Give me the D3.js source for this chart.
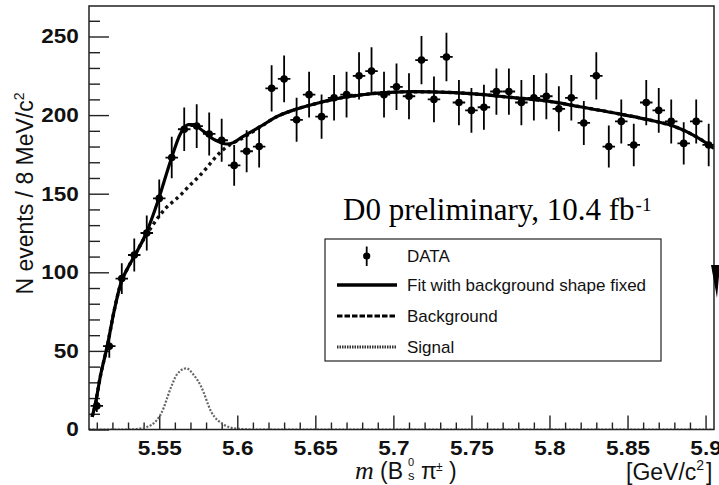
<!DOCTYPE html>
<meta charset="utf-8">
<head>
<style>
  body { margin: 0; background: #fff; }
  .axis text { font: bold 20px "Liberation Sans", Arial, sans-serif; fill: #111; }
  .axis line { stroke: #222; stroke-width: 1.4; }
  .axis path { display: none; }
  .lab { font-family: "Liberation Sans", Arial, sans-serif; fill: #111; }
</style>
</head>
<body>
<script src="https://cdnjs.cloudflare.com/ajax/libs/d3/7.8.5/d3.min.js"></script>
<script>

// bin centres (8 MeV bins), GeV/c^2
const binCenters = [5.510, 5.518, 5.526, 5.534, 5.542, 5.550, 5.558, 5.566, 5.574, 5.582,
  5.590, 5.598, 5.606, 5.614, 5.622, 5.630, 5.638, 5.646, 5.654, 5.662,
  5.670, 5.678, 5.686, 5.694, 5.702, 5.710, 5.718, 5.726, 5.734, 5.742,
  5.750, 5.758, 5.766, 5.774, 5.782, 5.790, 5.798, 5.806, 5.814, 5.822,
  5.830, 5.838, 5.846, 5.854, 5.862, 5.870, 5.878, 5.886, 5.894, 5.902];
const counts = [15, 53, 96, 111, 125, 147, 173, 191, 193, 188,
  184, 168, 177, 180, 217, 223, 197, 213, 199, 211,
  213, 225, 228, 213, 218, 212, 235, 210, 237, 208,
  203, 205, 215, 215, 208, 211, 212, 204, 211, 195,
  225, 180, 196, 181, 208, 203, 196, 182, 196, 181];
const errors = [3.9, 7.3, 9.8, 10.5, 11.2, 12.1, 13.2, 13.8, 13.9, 13.7,
  13.6, 13.0, 13.3, 13.4, 14.7, 14.9, 14.0, 14.6, 14.1, 14.5,
  14.6, 15.0, 15.1, 14.6, 14.8, 14.6, 15.3, 14.5, 15.4, 14.4,
  14.2, 14.3, 14.7, 14.7, 14.4, 14.5, 14.6, 14.3, 14.5, 14.0,
  15.0, 13.4, 14.0, 13.5, 14.4, 14.2, 14.0, 13.5, 14.0, 13.5];
const binHalf = 0.004;

// fit curve
const fitMass = [5.507, 5.5088, 5.5125, 5.5167, 5.521, 5.5257, 5.530, 5.5339, 5.5417, 5.5494,
  5.5573, 5.5635, 5.5686, 5.5718, 5.5760, 5.5804, 5.5850, 5.5890, 5.5932, 5.5975,
  5.6018, 5.6146, 5.6253, 5.636, 5.6488, 5.6616, 5.6787, 5.698, 5.7127, 5.7341,
  5.7555, 5.7768, 5.7982, 5.8195, 5.8409, 5.8622, 5.8793, 5.8921, 5.9054];
const fitVal = [8, 15, 35, 53, 75, 94, 103, 110, 125, 146,
  171, 188, 194, 194, 191.5, 188, 184.5, 182.7, 181.6, 182.5,
  185.2, 192.6, 199, 203.2, 206.9, 210, 212.8, 214.5, 214.9, 214.5,
  213.2, 211.1, 209, 205.3, 201.5, 197.3, 193, 187.3, 179];

// background curve
const bgMass = [5.507, 5.5088, 5.5125, 5.5167, 5.521, 5.5257, 5.530, 5.5339, 5.5400, 5.5445,
  5.5494, 5.5543, 5.5601, 5.5650, 5.5692, 5.5750, 5.5800, 5.5850, 5.5904, 5.5950,
  5.6018, 5.6146, 5.6253, 5.636, 5.6488, 5.6616, 5.6787, 5.698, 5.7127, 5.7341,
  5.7555, 5.7768, 5.7982, 5.8195, 5.8409, 5.8622, 5.8793, 5.8921, 5.9054];
const bgVal = [8, 15, 35, 53, 75, 94, 103, 110, 121, 128,
  135, 141, 146, 150.5, 155, 160.5, 166, 172, 177.5, 181,
  184.5, 192.4, 199, 203.2, 206.9, 210, 212.8, 214.5, 214.9, 214.5,
  213.2, 211.1, 209, 205.3, 201.5, 197.3, 193, 187.3, 179];

// signal curve
const sigMass = [5.505, 5.530, 5.5385, 5.545, 5.5513, 5.5577, 5.5611, 5.5673, 5.5721, 5.5769,
  5.5833, 5.5917, 5.5981, 5.610, 5.9054];
const sigVal = [0, 0, 0.8, 2.9, 10.3, 27.2, 34.7, 38.9, 34.7, 27.2,
  11.3, 2.9, 0.8, 0, 0];

const xMajor = [5.55, 5.6, 5.65, 5.7, 5.75, 5.8, 5.85, 5.9];
const xLabels = ["5.55", "5.6", "5.65", "5.7", "5.75", "5.8", "5.85", "5.9"];
const yMajor = [0, 50, 100, 150, 200, 250];

const legendLabels = ["DATA", "Fit with background shape fixed", "Background", "Signal"];

const W = 719, H = 485;
const pad = {left: 89, right: 714, top: 6, bottom: 429.5};

const svg = d3.select("body").append("svg")
  .attr("width", W).attr("height", H);

const x = d3.scaleLinear().domain([5.505, 5.9054]).range([pad.left, pad.right]);
const y = d3.scaleLinear().domain([0, 269.4]).range([pad.bottom, pad.top]);

svg.append("defs").append("clipPath").attr("id", "clip")
  .append("rect").attr("x", pad.left).attr("y", pad.top)
  .attr("width", pad.right - pad.left).attr("height", pad.bottom - pad.top);

// minor ticks
const yMinor = d3.range(0, 270, 10).filter(v => v % 50 !== 0);
const xMinor = d3.range(5.51, 5.905, 0.01).filter(v => xMajor.every(m => Math.abs(m - v) > 1e-6));

svg.append("g").attr("class", "axis")
  .attr("transform", `translate(${pad.left},0)`)
  .call(d3.axisLeft(y).tickValues(yMinor).tickSize(-11).tickFormat(""));
svg.append("g").attr("class", "axis")
  .attr("transform", `translate(${pad.left},0)`)
  .call(d3.axisLeft(y).tickValues(yMajor).tickSize(-20).tickPadding(9))
  .selectAll("text").attr("transform", "scale(1.13,1)");

svg.append("g").attr("class", "axis")
  .attr("transform", `translate(0,${pad.bottom})`)
  .call(d3.axisBottom(x).tickValues(xMinor).tickSize(-7).tickFormat(""));
svg.append("g").attr("class", "axis")
  .attr("transform", `translate(0,${pad.bottom})`)
  .call(d3.axisBottom(x).tickValues(xMajor).tickSize(-14).tickPadding(11)
    .tickFormat((d, i) => xLabels[i]))
  .selectAll("text").attr("transform", "scale(1.13,1)");

// curves
const plot = svg.append("g").attr("clip-path", "url(#clip)");
const line = d3.line().x(d => x(d[0])).y(d => y(d[1])).curve(d3.curveMonotoneX);

plot.append("path")
  .attr("d", line(sigMass.map((m, i) => [m, sigVal[i]])))
  .attr("fill", "none").attr("stroke", "#666").attr("stroke-width", 2.2)
  .attr("stroke-dasharray", "2,1.6");

plot.append("path")
  .attr("d", line(bgMass.map((m, i) => [m, bgVal[i]])))
  .attr("fill", "none").attr("stroke", "#111").attr("stroke-width", 3.4)
  .attr("stroke-dasharray", "3.2,3.6");

plot.append("path")
  .attr("d", line(fitMass.map((m, i) => [m, fitVal[i]])))
  .attr("fill", "none").attr("stroke", "#000").attr("stroke-width", 3.2);

// data points
const pts = plot.append("g").selectAll("g").data(counts).join("g");
pts.append("line")
  .attr("x1", (d, i) => x(binCenters[i])).attr("x2", (d, i) => x(binCenters[i]))
  .attr("y1", (d, i) => y(d + errors[i])).attr("y2", (d, i) => y(d - errors[i]))
  .attr("stroke", "#000").attr("stroke-width", 1.8);
pts.append("line")
  .attr("x1", (d, i) => x(binCenters[i] - binHalf)).attr("x2", (d, i) => x(binCenters[i] + binHalf))
  .attr("y1", d => y(d)).attr("y2", d => y(d))
  .attr("stroke", "#000").attr("stroke-width", 1.8);
pts.append("circle")
  .attr("cx", (d, i) => x(binCenters[i])).attr("cy", d => y(d))
  .attr("r", 3.8).attr("fill", "#000");

// frame
svg.append("rect")
  .attr("x", pad.left).attr("y", pad.top)
  .attr("width", pad.right - pad.left).attr("height", pad.bottom - pad.top)
  .attr("fill", "none").attr("stroke", "#222").attr("stroke-width", 1.5);

// y axis title
svg.append("text").attr("class", "lab")
  .attr("transform", "translate(33,193.5) rotate(-90)")
  .attr("text-anchor", "middle")
  .style("font-size", "23px")
  .text("N events / 8 MeV/c")
  .append("tspan").attr("dy", -9).style("font-size", "14px").text("2");

// x axis title
svg.append("text").attr("x", 355).attr("y", 479)
  .style("font", "italic 26px 'Liberation Serif', 'Times New Roman', serif").attr("fill", "#111")
  .text("m");
svg.append("text").attr("class", "lab").attr("x", 380).attr("y", 479)
  .style("font-size", "23px").text("(B");
svg.append("text").attr("class", "lab").attr("x", 408).attr("y", 466)
  .style("font-size", "11px").text("0");
svg.append("text").attr("class", "lab").attr("x", 408).attr("y", 480)
  .style("font-size", "13px").text("s");
svg.append("text").attr("class", "lab").attr("x", 421).attr("y", 479)
  .style("font-size", "23px").text("π");
svg.append("text").attr("class", "lab").attr("x", 436).attr("y", 471)
  .style("font-size", "12px").text("±");
svg.append("text").attr("class", "lab").attr("x", 449).attr("y", 479)
  .style("font-size", "23px").text(")");

const unit = svg.append("text").attr("class", "lab").attr("x", 626).attr("y", 480)
  .style("font-size", "23px").text("[GeV/c");
unit.append("tspan").attr("dy", -10).style("font-size", "14px").text("2");
unit.append("tspan").attr("dy", 10).attr("dx", 2).text("]");

// experiment label
const exp = svg.append("text").attr("x", 343).attr("y", 220)
  .style("font", "31px 'Liberation Serif', 'Times New Roman', serif").attr("fill", "#000")
  .text("D0 preliminary, 10.4 fb");
exp.append("tspan").attr("dy", -9).attr("dx", 1).style("font-size", "19px").text("-1");

// legend
const lg = svg.append("g");
lg.append("rect").attr("x", 325).attr("y", 239).attr("width", 336).attr("height", 122)
  .attr("fill", "#fff").attr("stroke", "#222").attr("stroke-width", 1.2);
const rowY = [256, 285, 316, 347];
lg.selectAll("text").data(legendLabels).join("text")
  .attr("class", "lab")
  .attr("x", 407).attr("y", (d, i) => rowY[i]).attr("dy", "0.36em")
  .style("font-size", "17px")
  .text(d => d);
lg.append("line").attr("x1", 366.7).attr("x2", 366.7).attr("y1", rowY[0] - 9.5).attr("y2", rowY[0] + 10)
  .attr("stroke", "#000").attr("stroke-width", 1.8);
lg.append("circle").attr("cx", 366.7).attr("cy", rowY[0]).attr("r", 3.6).attr("fill", "#000");
lg.append("line").attr("x1", 337).attr("x2", 397).attr("y1", rowY[1]).attr("y2", rowY[1])
  .attr("stroke", "#000").attr("stroke-width", 3.4);
lg.append("line").attr("x1", 337).attr("x2", 397).attr("y1", rowY[2]).attr("y2", rowY[2])
  .attr("stroke", "#000").attr("stroke-width", 3.2).attr("stroke-dasharray", "5.5,2");
lg.append("line").attr("x1", 337).attr("x2", 397).attr("y1", rowY[3]).attr("y2", rowY[3])
  .attr("stroke", "#333").attr("stroke-width", 3).attr("stroke-dasharray", "1.5,1");

// arrow head at the right edge
svg.append("path")
  .attr("d", "M711,265 L720,265 L717,298 Z")
  .attr("fill", "#000");

</script>
</body>
